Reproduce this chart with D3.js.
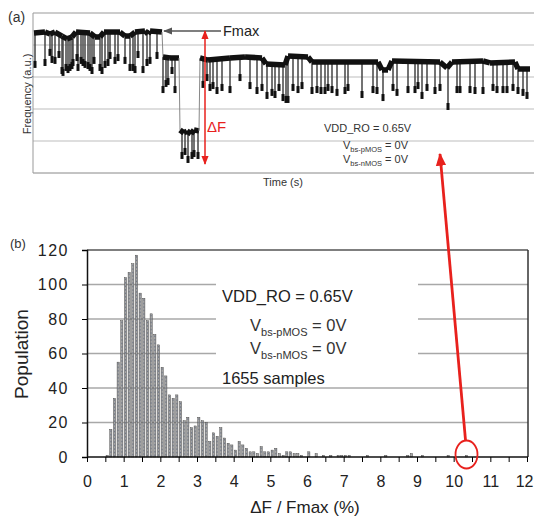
<!DOCTYPE html>
<meta charset="utf-8">
<html>
<style>
body { margin: 0; background: #fff; }
text { font-family: "Liberation Sans", Arial, sans-serif; }
</style>
<body>
<script src="https://cdn.jsdelivr.net/npm/d3@7"></script>
<script>

// ---- panel (a): frequency trace ----
// baseline level of the trace (time in samples, frequency in a.u.)
var baseT = [1, 12, 17, 22, 29, 34, 39, 43, 57, 62, 67, 71, 87, 92, 97, 102, 112, 115, 117, 129,
             130, 137, 146, 147, 151, 154, 158, 161, 166, 167, 175, 197, 212, 229, 233, 252, 255,
             275, 279, 345, 349, 355, 359, 407, 414, 419, 450, 457, 482, 485, 497];
var baseF = [87.5, 88.1, 86.9, 88.1, 85.6, 83.8, 85.0, 88.1, 87.5, 85.0, 85.0, 88.1, 88.1, 85.6, 85.6, 88.1, 88.8, 86.9, 88.8, 88.1,
             72.5, 71.9, 71.9, 26.9, 25.0, 26.3, 24.4, 26.9, 26.3, 71.9, 70.6, 71.9, 72.5, 71.9, 68.1, 67.5, 73.1,
             72.5, 69.4, 69.4, 64.4, 64.4, 70.0, 69.4, 65.6, 69.4, 70.0, 68.8, 69.4, 65.0, 65.0];

// downward spikes: time and the frequency they reach
var dipT = [2, 12, 17, 19, 22, 26, 29, 30, 33, 35, 37, 39, 40, 44, 45, 48, 50, 52, 55, 57, 59, 61, 67, 69, 72, 75, 77, 82, 85, 92, 97, 100, 102, 105, 110, 114, 117, 124,
            130, 133, 135, 139, 142,
            149, 152, 155, 159, 161, 165,
            170, 174, 177, 180, 184, 189, 197, 207, 217, 224, 229, 234, 239, 242, 246, 250, 253, 255, 260, 265, 269, 279, 284, 288, 292, 295, 299, 304, 312, 315,
            329, 340, 344, 350, 360, 364, 375, 382, 385, 389, 394, 402, 407, 415, 424, 427, 437, 442, 450, 460, 464, 470, 474, 480, 485, 490, 494];
var dipF = [66.3, 67.5, 73.8, 69.4, 68.8, 72.5, 62.5, 61.3, 64.4, 63.1, 64.4, 65.6, 67.5, 70.6, 64.4, 68.8, 67.5, 66.3, 65.6, 64.4, 62.5, 68.8, 64.4, 62.5, 66.3, 67.5, 71.9, 68.8, 70.6, 68.8, 64.4, 64.4, 63.1, 72.5, 63.1, 67.5, 68.8, 71.9,
            50.6, 54.4, 55.6, 62.5, 50.6,
            9.4, 11.9, 6.9, 9.4, 10.6, 9.4,
            53.8, 58.1, 51.9, 53.1, 50.0, 51.9, 50.6, 58.1, 53.1, 50.0, 51.9, 46.9, 48.8, 47.5, 51.9, 45.6, 44.4, 44.4, 51.9, 50.6, 53.1, 50.0, 50.6, 50.0, 50.0, 51.9, 50.6, 48.8, 50.0, 51.9,
            47.5, 50.6, 50.0, 45.6, 51.9, 48.8, 50.6, 50.6, 53.1, 46.9, 51.9, 50.0, 51.9, 40.0, 50.6, 50.6, 50.6, 50.0, 50.0, 51.9, 50.6, 50.6, 50.6, 51.9, 50.0, 48.8, 46.9];

var fGrid = [0, 20, 40, 60, 80, 100];

// ---- panel (b): histogram of dF/Fmax (%) ----
var binStart = [0.5, 0.6, 0.7, 0.8, 0.9, 1.0, 1.1, 1.2, 1.3, 1.4, 1.5, 1.6, 1.7, 1.8, 1.9,
                2.0, 2.1, 2.2, 2.3, 2.4, 2.5, 2.6, 2.7, 2.8, 2.9,
                3.0, 3.1, 3.2, 3.3, 3.4, 3.5, 3.6, 3.7, 3.8, 3.9,
                4.0, 4.1, 4.2, 4.3, 4.4, 4.5, 4.6, 4.7, 4.8, 4.9,
                5.0, 5.1, 5.2, 5.3, 5.4, 5.5, 5.6, 5.7, 5.8, 6.0, 6.2, 6.4, 6.6, 6.8, 6.9, 7.0, 7.1,
                7.6, 8.1, 8.7, 8.8, 9.1, 9.8, 10.3];
var counts = [1, 16, 34, 55, 79, 104, 107, 112, 117, 95, 92, 79, 83, 71, 65,
              52, 47, 36, 34, 36, 32, 21, 23, 17, 18,
              23, 21, 20, 9, 14, 12, 17, 11, 8, 7,
              4, 9, 7, 5, 3, 3, 2, 6, 3, 3,
              4, 5, 2, 1, 3, 3, 2, 2, 1, 3, 2, 1, 1, 1, 1, 1, 1,
              1, 1, 1, 2, 1, 1, 1];
var popTicks = [0, 20, 40, 60, 80, 100, 120];
var pctTicks = [0, 1, 2, 3, 4, 5, 6, 7, 8, 9, 10, 11, 12];
var circledBin = 10.3;

var svg = d3.select("body").append("svg")
    .attr("width", 534)
    .attr("height", 517);

var defs = svg.append("defs");
function marker(id, color, size) {
  defs.append("marker")
      .attr("id", id)
      .attr("viewBox", "0 0 10 10")
      .attr("refX", 9).attr("refY", 5)
      .attr("markerWidth", size).attr("markerHeight", size)
      .attr("markerUnits", "userSpaceOnUse")
      .attr("orient", "auto-start-reverse")
    .append("path")
      .attr("d", "M0,1 L10,5 L0,9 Z")
      .attr("fill", color);
}
marker("redHead", "#e8211d", 9);
marker("bigRed", "#e8211d", 13);
marker("grayHead", "#555", 9);

// ================= panel (a) =================
var xa = d3.scaleLinear().domain([0, 500]).range([33, 533]);
var ya = d3.scaleLinear().domain([0, 100]).range([173, 13]);
var ga = svg.append("g");

ga.selectAll(".gridA").data(fGrid.slice(1)).enter().append("line")
    .attr("x1", 33).attr("x2", 534)
    .attr("y1", function(d) { return ya(d); }).attr("y2", function(d) { return ya(d); })
    .attr("stroke", function(d) { return d == 100 ? "#999" : "#bdbdbd"; })
    .attr("stroke-width", 1);
ga.append("line").attr("x1", 33).attr("x2", 534).attr("y1", ya(0)).attr("y2", ya(0))
    .attr("stroke", "#888");
ga.append("line").attr("x1", 33).attr("x2", 33).attr("y1", ya(100)).attr("y2", ya(0))
    .attr("stroke", "#999");

// level of the trace at any time, for the top of each spike
var levelAt = d3.scaleLinear().domain(baseT).range(baseF);

// spikes
var dips = d3.range(dipT.length).map(function(i) { return {t: dipT[i], f: dipF[i]}; });
ga.selectAll(".dip").data(dips).enter().append("line")
    .attr("x1", function(d) { return xa(d.t); }).attr("x2", function(d) { return xa(d.t); })
    .attr("y1", function(d) { return ya(levelAt(d.t)); })
    .attr("y2", function(d) { return ya(d.f); })
    .attr("stroke", "#444").attr("stroke-width", 1.5);
ga.selectAll(".blob").data(dips).enter().append("rect")
    .attr("x", function(d) { return xa(d.t) - 1.5; })
    .attr("y", function(d) { return ya(d.f) - 6; })
    .attr("width", 3).attr("height", 7)
    .attr("fill", "#111");

// baseline band, thin gray where the level jumps
var segs = d3.range(baseT.length - 1).map(function(i) {
  return {t0: baseT[i], f0: baseF[i], t1: baseT[i + 1], f1: baseF[i + 1]};
});
ga.selectAll(".seg").data(segs).enter().append("line")
    .attr("x1", function(d) { return xa(d.t0); }).attr("y1", function(d) { return ya(d.f0); })
    .attr("x2", function(d) { return xa(d.t1); }).attr("y2", function(d) { return ya(d.f1); })
    .attr("stroke", function(d) { return Math.abs(ya(d.f1) - ya(d.f0)) > 15 ? "#888" : "#111"; })
    .attr("stroke-width", function(d) { return Math.abs(ya(d.f1) - ya(d.f0)) > 15 ? 1 : 5.5; })
    .attr("stroke-linecap", "butt");

// Fmax and delta F annotations
ga.append("line").attr("x1", 221).attr("y1", 31).attr("x2", 164).attr("y2", 31)
    .attr("stroke", "#555").attr("stroke-width", 1.5).attr("marker-end", "url(#grayHead)");
ga.append("text").attr("x", 223).attr("y", 36).attr("font-size", 14.5).attr("fill", "#222").text("Fmax");
ga.append("line").attr("x1", 205).attr("y1", 31).attr("x2", 205).attr("y2", 164)
    .attr("stroke", "#e8211d").attr("stroke-width", 1.5)
    .attr("marker-start", "url(#redHead)").attr("marker-end", "url(#redHead)");
ga.append("text").attr("x", 207).attr("y", 132).attr("font-size", 15).attr("fill", "#e8211d").text("\u0394F");

ga.append("text").attr("x", 8).attr("y", 22).attr("font-size", 14).attr("fill", "#333").text("(a)");
ga.append("text").attr("transform", "translate(31,94) rotate(-90)")
    .attr("text-anchor", "middle").attr("font-size", 11).attr("fill", "#333").text("Frequency (a.u.)");
ga.append("text").attr("x", 263).attr("y", 186).attr("font-size", 11).attr("fill", "#333").text("Time (s)");

ga.append("text").attr("x", 324).attr("y", 132).attr("font-size", 11).attr("fill", "#333").text("VDD_RO = 0.65V");
function vbs(g, x, y, sub, fs, sfs) {
  var t = g.append("text").attr("x", x).attr("y", y).attr("font-size", fs).attr("fill", "#333");
  t.append("tspan").text("V");
  t.append("tspan").attr("font-size", sfs).attr("dy", fs * 0.28).text("bs-" + sub + "MOS");
  t.append("tspan").attr("dy", -fs * 0.28).text(" = 0V");
}
vbs(ga, 343, 149, "p", 11, 7.5);
vbs(ga, 343, 163, "n", 11, 7.5);

// ================= panel (b) =================
var xb = d3.scaleLinear().domain([0, 12]).range([87, 527]);
var yb = d3.scaleLinear().domain([0, 120]).range([457, 250]);
var gb = svg.append("g");

gb.selectAll(".gridB").data(popTicks.slice(1, 6)).enter().append("line")
    .attr("x1", 87).attr("x2", 528)
    .attr("y1", function(d) { return yb(d); }).attr("y2", function(d) { return yb(d); })
    .attr("stroke", "#a8a8a8").attr("stroke-width", 1.5);
// white box behind the legend text
gb.append("rect").attr("x", 216).attr("y", 268).attr("width", 202).attr("height", 104).attr("fill", "#fff");

gb.append("line").attr("x1", 87).attr("x2", 528).attr("y1", yb(120)).attr("y2", yb(120))
    .attr("stroke", "#555").attr("stroke-width", 1.5);
gb.append("line").attr("x1", 528).attr("x2", 528).attr("y1", yb(120)).attr("y2", yb(0))
    .attr("stroke", "#333").attr("stroke-width", 1.5);

// bars
var bins = d3.range(binStart.length).map(function(i) { return {x: binStart[i] + 0.05, n: counts[i]}; });
var bw = 2.2;
gb.selectAll(".bar").data(bins).enter().append("rect")
    .attr("x", function(d) { return xb(d.x) - bw / 2; })
    .attr("y", function(d) { return yb(d.n); })
    .attr("width", bw)
    .attr("height", function(d) { return yb(0) - yb(d.n); })
    .attr("fill", "#a6a6a6").attr("stroke", "#333").attr("stroke-width", 0.4);
gb.selectAll(".barMid").data(bins.filter(function(d) { return d.n > 2; })).enter().append("line")
    .attr("x1", function(d) { return xb(d.x); }).attr("x2", function(d) { return xb(d.x); })
    .attr("y1", function(d) { return yb(d.n) + 1; }).attr("y2", yb(0))
    .attr("stroke", "#3c4c6c").attr("stroke-width", 0.5).attr("stroke-dasharray", "1.5,2");

// axes
var yAxis = d3.axisLeft(yb).tickValues(popTicks).tickSize(5).tickPadding(13);
var yg = gb.append("g").attr("transform", "translate(87,0)").call(yAxis);
yg.select(".domain").attr("stroke", "#111").attr("stroke-width", 1.5);
yg.selectAll("text").attr("font-size", 16).attr("fill", "#222").attr("letter-spacing", 1.5);

var xAxis = d3.axisBottom(xb).tickValues(d3.range(0, 12.01, 0.5)).tickSize(5).tickPadding(14)
    .tickFormat(function(d) { return pctTicks.indexOf(d) >= 0 ? d : ""; });
var xg = gb.append("g").attr("transform", "translate(0,457)").call(xAxis);
xg.select(".domain").attr("stroke", "#111").attr("stroke-width", 1.5).attr("d", "M87,0H528");
xg.selectAll("text").attr("font-size", 16).attr("fill", "#222");
// keep the last label inside the page
xg.selectAll(".tick text").filter(function(d) { return d == 12; })
    .attr("text-anchor", "end").attr("x", 533 - xb(12));

gb.append("text").attr("transform", "translate(28,354) rotate(-90)")
    .attr("text-anchor", "middle").attr("font-size", 19).attr("fill", "#222").text("Population");
gb.append("text").attr("x", 305).attr("y", 513).attr("text-anchor", "middle")
    .attr("font-size", 17).attr("fill", "#222").text("\u0394F / Fmax (%)");
gb.append("text").attr("x", 10).attr("y", 248).attr("font-size", 13).attr("fill", "#333").text("(b)");

// legend text
gb.append("text").attr("x", 222).attr("y", 302).attr("font-size", 16.5).attr("fill", "#222").text("VDD_RO = 0.65V");
vbs(gb, 250, 331, "p", 16.5, 11);
vbs(gb, 250, 354, "n", 16.5, 11);
gb.append("text").attr("x", 222).attr("y", 384).attr("font-size", 16.5).attr("fill", "#222").text("1655 samples");

// red circle around the largest event and the arrow back to panel (a)
gb.append("ellipse").attr("cx", xb(circledBin + 0.05)).attr("cy", 454.5).attr("rx", 11).attr("ry", 14)
    .attr("fill", "none").attr("stroke", "#e8211d").attr("stroke-width", 1.8);
gb.append("line").attr("x1", xb(circledBin + 0.05) - 1).attr("y1", 440).attr("x2", 440).attr("y2", 154)
    .attr("stroke", "#e8211d").attr("stroke-width", 2.8).attr("marker-end", "url(#bigRed)");

</script>
</body>
</html>
